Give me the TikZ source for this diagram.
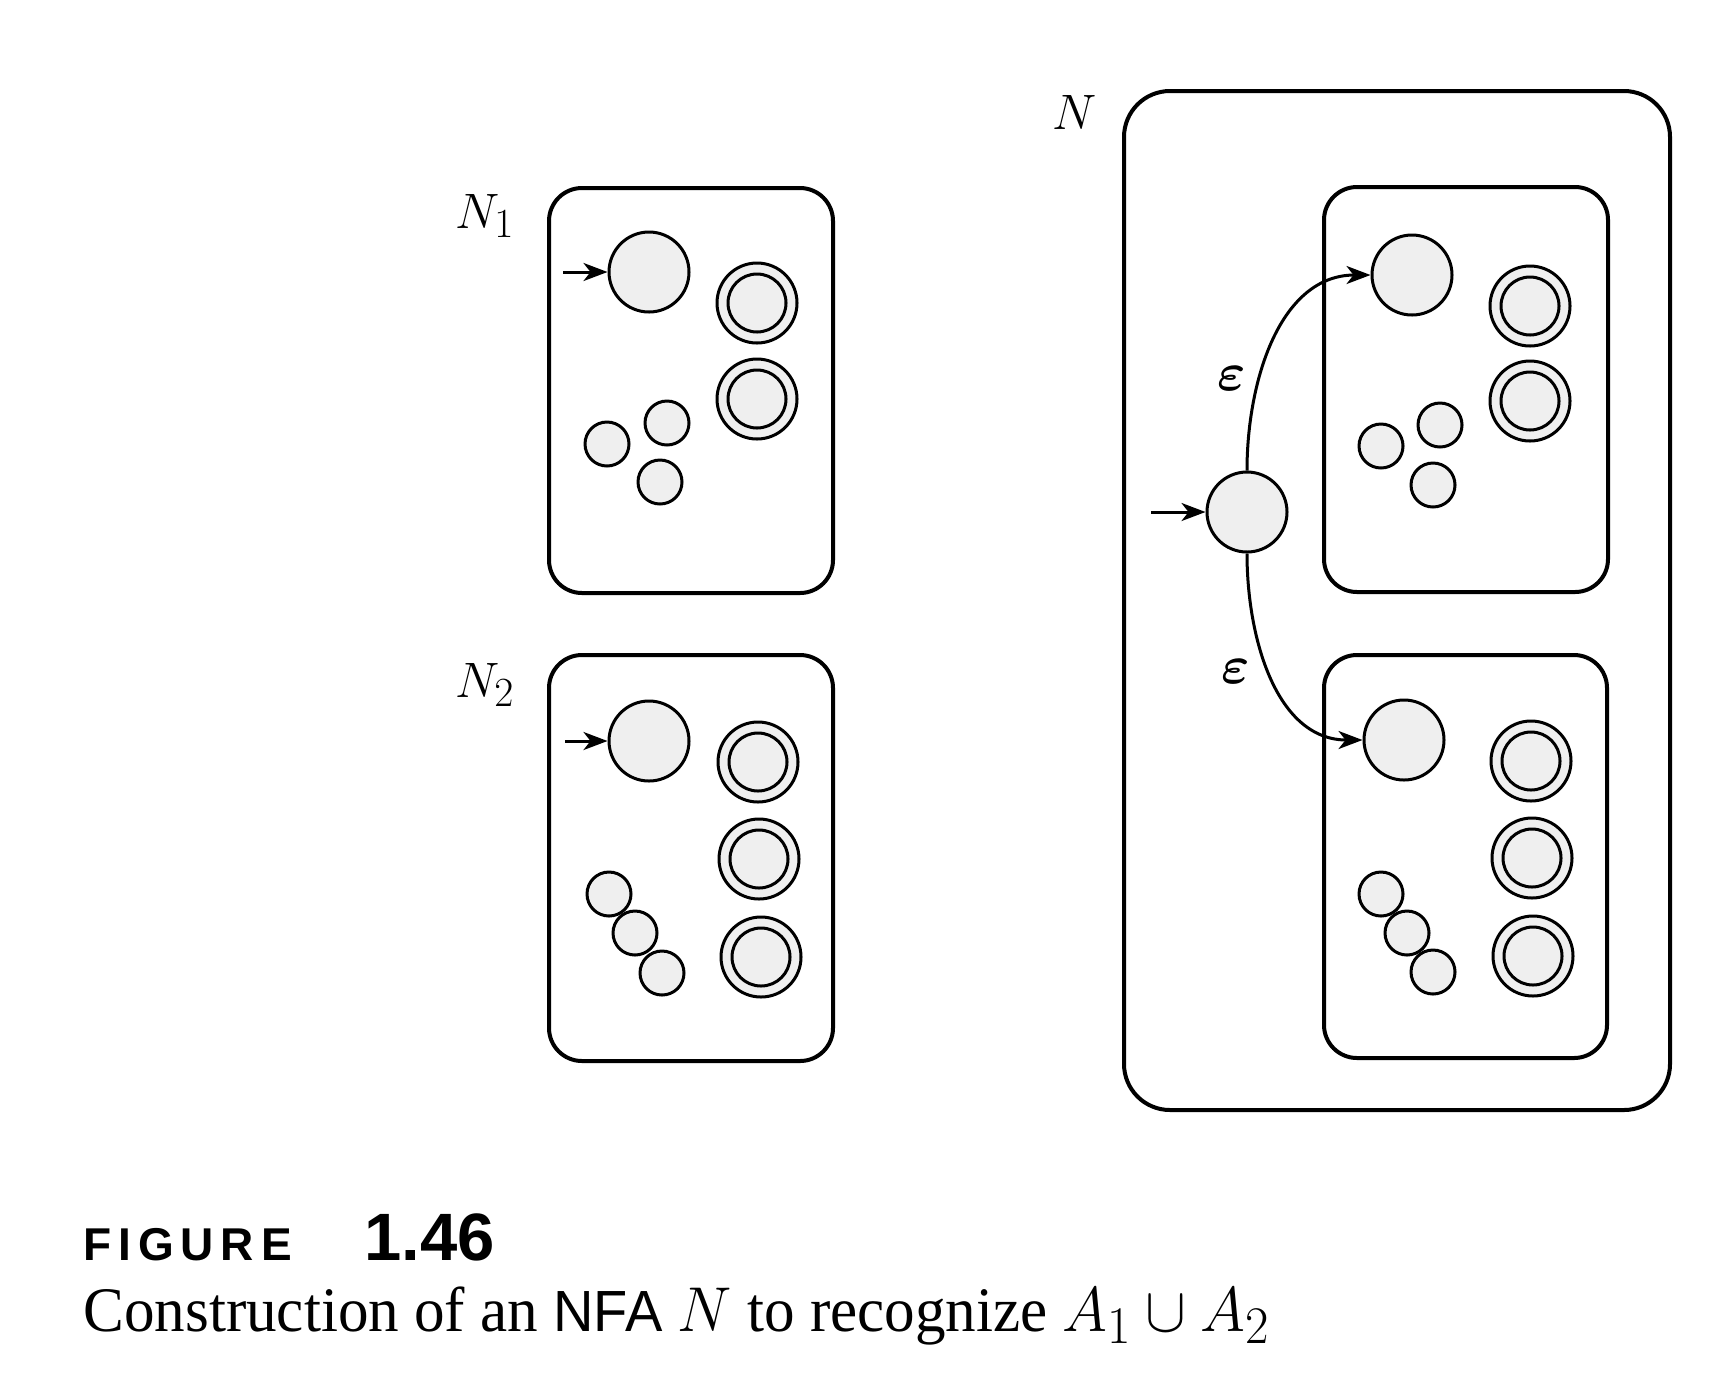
\documentclass[tikz,border=0pt]{standalone}
\usepackage{amsmath}
\usepackage[no-math]{fontspec}
\setmainfont{Liberation Serif}
\newfontfamily\capsans{Liberation Sans}
\newfontfamily\figsans[LetterSpace=15]{Liberation Sans}
\usetikzlibrary{arrows.meta}
\definecolor{stfill}{HTML}{EFEFEF}
\begin{document}
\begin{tikzpicture}[x=0.5pt,y=-0.5pt,
  box/.style={draw, line width=2pt, rounded corners=16.5pt, inner sep=0pt},
  st/.style={circle, draw, line width=1.5pt, fill=stfill, inner sep=0pt, minimum size=40pt},
  sm/.style={st, minimum size=22pt},
  acc/.style={st, path picture={\draw[line width=1.5pt] (path picture bounding box.center) circle[radius=14.5pt];}},
  arr/.style={-{Stealth[length=12pt,width=9pt,inset=3.5pt]}, line width=1.5pt},
  lab/.style={font=\fontsize{24.88}{30}\selectfont, inner sep=0pt},
]
\useasboundingbox (0,0) rectangle (1728,1372);

% ---------- N1 ----------
\node[box, minimum width=142pt, minimum height=202.5pt] (B1) at (691,390.5) {};
\node[lab, anchor=base west] (L1) at (455,228) {$N_1$};
\node[st] (a1) at (649,272) {};
\node[acc] (a1f1) at (757,303) {};
\node[acc] (a1f2) at (757,399) {};
\node[sm] (a1s1) at (607,444) {};
\node[sm] (a1s2) at (667,423) {};
\node[sm] (a1s3) at (660,482) {};
\coordinate (i1) at (563,272);
\draw[arr] (i1) -- (a1);

% ---------- N2 ----------
\node[box, minimum width=142pt, minimum height=203pt] (B2) at (691,858) {};
\node[lab, anchor=base west] (L2) at (455,697) {$N_2$};
\node[st] (a2) at (649,741) {};
\node[acc] (a2f1) at (758,762) {};
\node[acc] (a2f2) at (759,859) {};
\node[acc] (a2f3) at (761,957) {};
\node[sm] (a2s1) at (609,894) {};
\node[sm] (a2s2) at (635,933) {};
\node[sm] (a2s3) at (662,973) {};
\coordinate (i2) at (565,741);
\draw[arr] (i2) -- (a2);

% ---------- N ----------
\node[box, rounded corners=23pt, minimum width=273pt, minimum height=509.5pt] (BN) at (1397,600.5) {};
\node[lab, anchor=base west] (LN) at (1052,129) {$N$};

\node[box, minimum width=142pt, minimum height=202.5pt] (C1) at (1466,389.5) {};
\node[st] (b1) at (1412,275) {};
\node[acc] (b1f1) at (1530,306) {};
\node[acc] (b1f2) at (1530,401) {};
\node[sm] (b1s1) at (1381,446) {};
\node[sm] (b1s2) at (1440,425) {};
\node[sm] (b1s3) at (1433,485) {};

\node[box, minimum width=141.5pt, minimum height=201.5pt] (C2) at (1465.5,856.5) {};
\node[st] (b2) at (1404,740) {};
\node[acc] (b2f1) at (1531,761) {};
\node[acc] (b2f2) at (1532,858) {};
\node[acc] (b2f3) at (1533,956) {};
\node[sm] (b2s1) at (1381,894) {};
\node[sm] (b2s2) at (1407,933) {};
\node[sm] (b2s3) at (1433,972) {};

\node[st] (s) at (1247,512) {};
\coordinate (i0) at (1151,512);
\draw[arr] (i0) -- (s);
\draw[arr] (s.90) to[out=90,in=180] (b1.180);
\draw[arr] (s.-90) to[out=-90,in=180] (b2.180);
\node[lab] (e1) at (1232,379) {\scalebox{1.08}{$\boldsymbol{\varepsilon}$}};
\node[lab] (e2) at (1236,672) {\scalebox{1.08}{$\boldsymbol{\varepsilon}$}};

% ---------- caption ----------
\node[anchor=base west, inner sep=0pt, font=\figsans\bfseries\fontsize{23}{28}\selectfont] (fig) at (83,1260) {FIGURE};
\node[anchor=base west, inner sep=0pt, font=\capsans\bfseries\fontsize{33.5}{40}\selectfont] (num) at (364,1260) {1.46};
\node[anchor=base west, inner sep=0pt] (cap) at (83,1331)
  {\scalebox{1.228}[1.274]{\fontsize{24.88}{30}\selectfont Construction of an {\capsans\fontsize{22.8}{27}\selectfont NFA} $N$ to recognize $A_1\cup A_2$}};
\end{tikzpicture}
\end{document}
